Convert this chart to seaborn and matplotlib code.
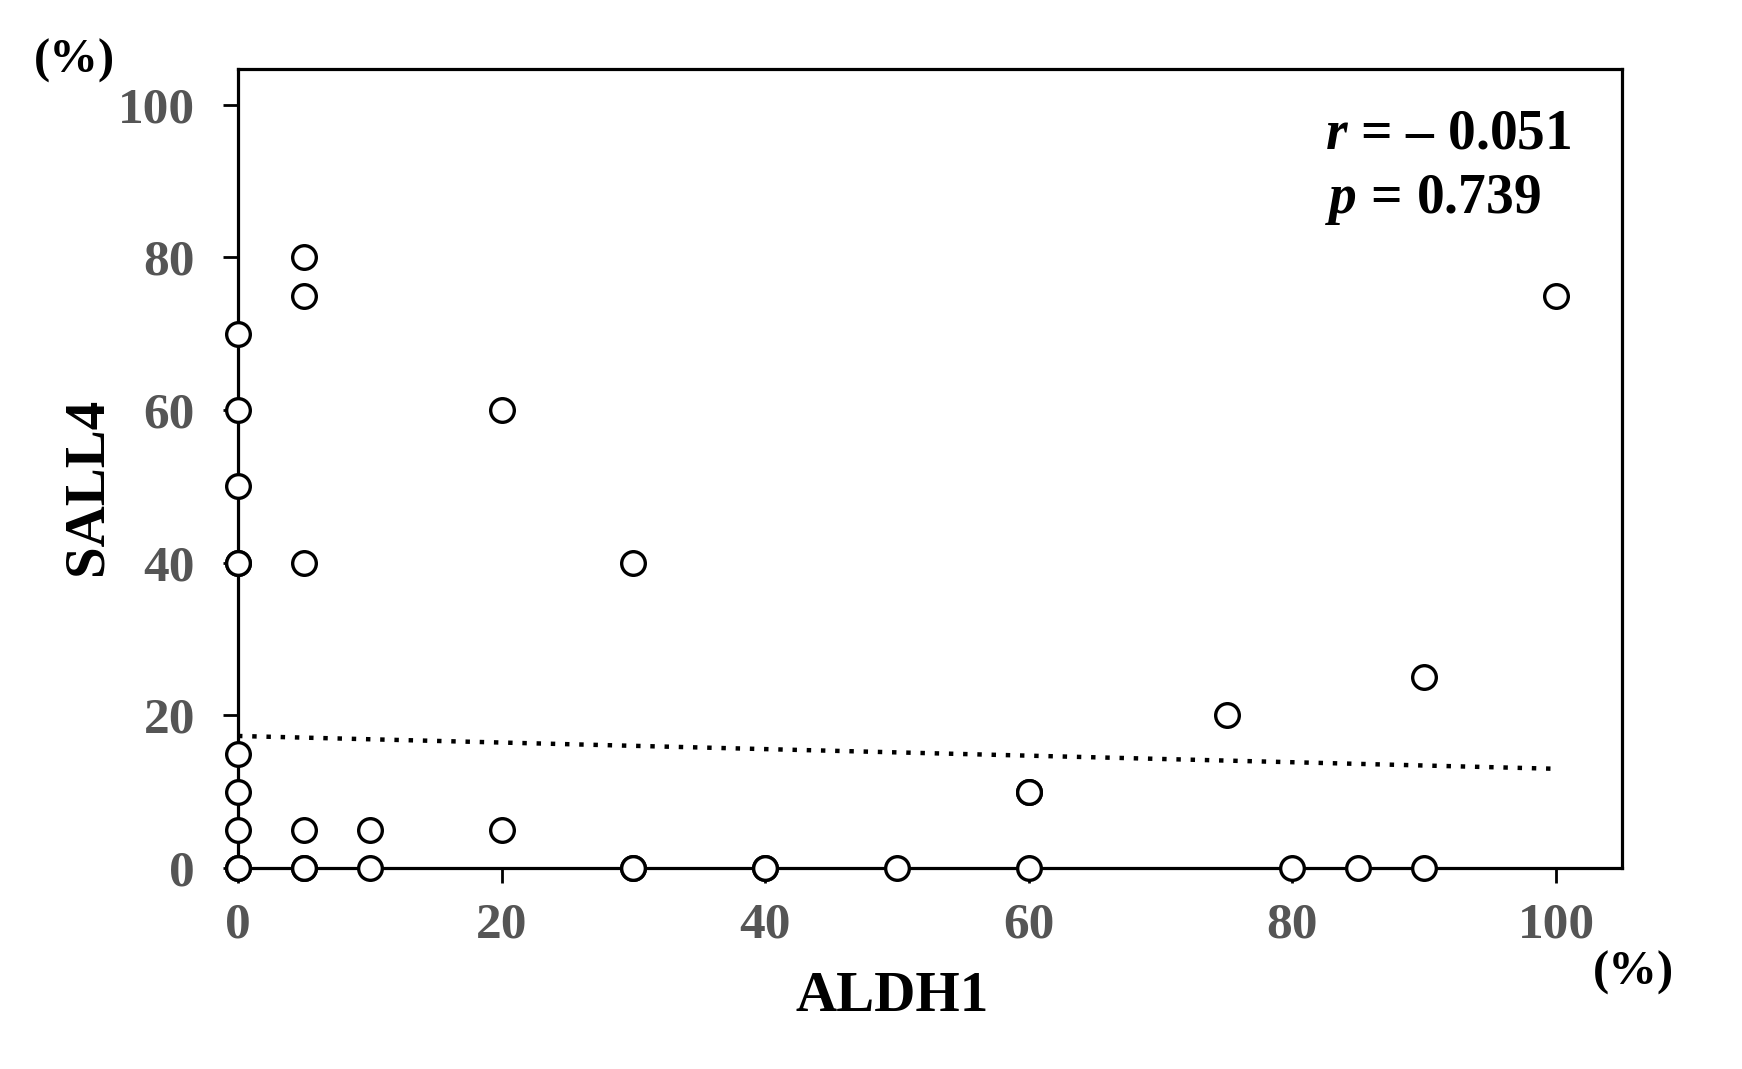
import numpy as np
import pandas as pd
import matplotlib
matplotlib.use("Agg")
import matplotlib.pyplot as plt
import seaborn as sns

# ---- data ----
aldh1 = [0, 0, 0, 0, 0, 0, 0, 0, 0, 0,
         5, 5, 5, 5, 5, 5,
         10, 10,
         20, 20,
         30, 30, 30,
         40, 40,
         50,
         60, 60, 60,
         75,
         80, 85,
         90, 90,
         100]
sall4 = [70, 60, 50, 40, 40, 15, 10, 5, 0, 0,
         80, 75, 40, 5, 0, 0,
         5, 0,
         60, 5,
         40, 0, 0,
         0, 0,
         0,
         10, 10, 0,
         20,
         0, 0,
         25, 0,
         75]
fit_x = [0, 100]
fit_y = [17.3, 13.0]
ticks = [0, 20, 40, 60, 80, 100]
r_text = "\u2013 0.051"
p_text = "0.739"

df = pd.DataFrame({"ALDH1": aldh1, "SALL4": sall4})

sns.set_style("white")
serif = ["Liberation Serif", "DejaVu Serif"]
plt.rcParams["font.family"] = serif
plt.rcParams["mathtext.fontset"] = "custom"
plt.rcParams["mathtext.it"] = "Liberation Serif:italic:bold"
plt.rcParams["mathtext.rm"] = "Liberation Serif:bold"

fig = plt.figure(figsize=(17.42, 10.69), dpi=100)
ax = fig.add_axes([238 / 1742, 1 - 868 / 1069, 1384 / 1742, 799 / 1069])

sns.scatterplot(data=df, x="ALDH1", y="SALL4", ax=ax, s=290, marker="o",
                facecolor="white", edgecolor="black", linewidth=2.4,
                zorder=3, clip_on=False, legend=False)
ax.plot(fit_x, fit_y, color="black", lw=3.2, linestyle=(0, (1, 2.2)),
        dash_capstyle="butt", zorder=2)

ax.set_xlim(0, 105)
ax.set_ylim(0, 104.7)
ax.set_xticks(ticks)
ax.set_yticks(ticks)
for s in ax.spines.values():
    s.set_visible(True)
    s.set_color("black")
    s.set_linewidth(2.3)
    s.set_zorder(2.5)

ax.tick_params(axis="both", direction="out", length=11, width=2.0, color="black",
               labelsize=37, labelcolor="#555555", left=True, bottom=True)
ax.tick_params(axis="y", pad=20)
ax.tick_params(axis="x", pad=14)
for lab in ax.get_xticklabels() + ax.get_yticklabels():
    lab.set_fontweight("bold")

ax.set_xlabel("ALDH1", fontsize=41, fontweight="bold", color="black", va="center")
ax.xaxis.set_label_coords(0.4725, -0.161)
ax.set_ylabel("SALL4", fontsize=41, fontweight="bold", color="black", va="center")
ax.yaxis.set_label_coords(-0.109, 0.478)

ax.text(82.5, 94.3, r"$\mathit{r}$ = " + r_text, fontsize=40, fontweight="bold",
        va="baseline", ha="left", color="black")
ax.text(82.5, 85.8, r"$\mathit{p}$ = " + p_text, fontsize=40, fontweight="bold",
        va="baseline", ha="left", color="black")

fig.text(74 / 1742, 1 - 61 / 1069, "(%)", fontsize=35, fontweight="bold",
         ha="center", va="center", color="black")
fig.text(1633 / 1742, 1 - 973 / 1069, "(%)", fontsize=35, fontweight="bold",
         ha="center", va="center", color="black")

fig.savefig("out.png", dpi=100, facecolor="white")
